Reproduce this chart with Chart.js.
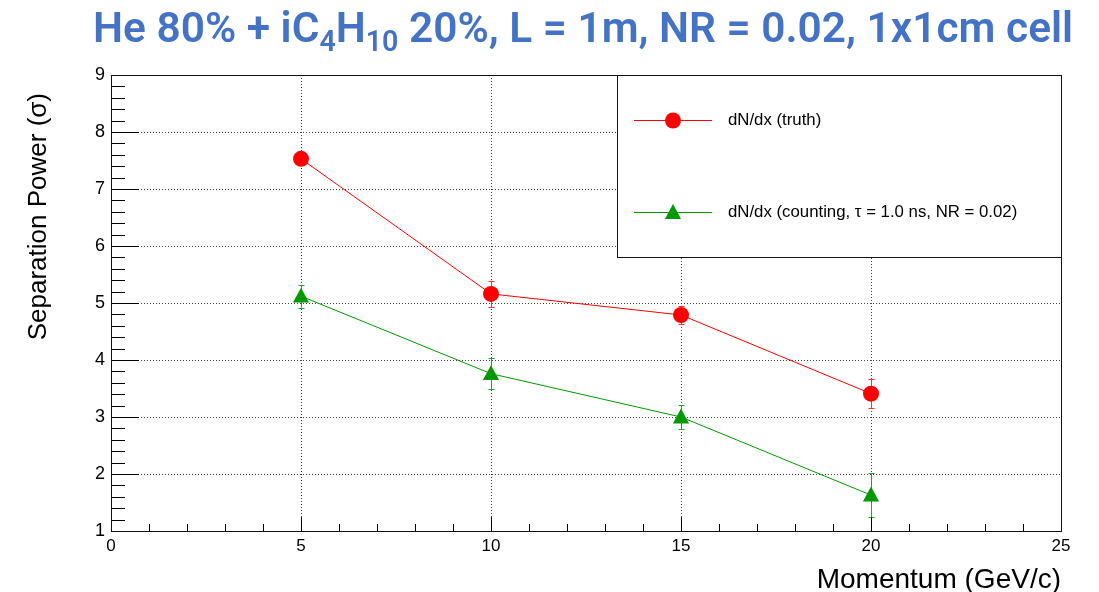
<!DOCTYPE html>
<html><head><meta charset="utf-8">
<script src="https://cdn.jsdelivr.net/npm/chart.js@4.4.1/dist/chart.umd.min.js"></script>
<style>html,body{margin:0;padding:0;background:#fff;}canvas{display:block;}</style>
</head><body>
<canvas id="c" width="1099" height="592"></canvas>
<script>
const momentum = [5, 10, 15, 20];
const truthValues = [7.53, 5.16, 4.79, 3.41];
const truthErrors = [0.1, 0.23, 0.16, 0.26];
const countingValues = [5.12, 3.76, 3.0, 1.63];
const countingErrors = [0.2, 0.27, 0.21, 0.38];
const seriesLabels = ['dN/dx (truth)', 'dN/dx (counting, \u03c4 = 1.0 ns, NR = 0.02)'];
const xTitle = 'Momentum (GeV/c)';
const yTitle = 'Separation Power (\u03c3)';
const titleParts = [['He 80% + iC', false], ['4', true], ['H', false], ['10', true], [' 20%, L = 1m, NR = 0.02, 1x1cm cell', false]];
const xRange = [0, 25];
const yRange = [1, 9];

const RED = '#ff0000';
const GREEN = '#009a00';
const FONT = '"Liberation Sans", Arial, sans-serif';

function drawMarker(ctx, style, x, y, r, color) {
  ctx.save();
  ctx.fillStyle = color;
  ctx.beginPath();
  if (style === 'circle') {
    ctx.arc(x, y, r, 0, Math.PI * 2);
  } else {
    const h = r * 1.0;
    ctx.moveTo(x, y - h);
    ctx.lineTo(x + r * 0.95, y + h * 0.75);
    ctx.lineTo(x - r * 0.95, y + h * 0.75);
    ctx.closePath();
  }
  ctx.fill();
  ctx.restore();
}

const errorBars = {
  id: 'errorBars',
  beforeDatasetsDraw(chart) {
    const {ctx, scales: {x, y}} = chart;
    const sets = [[truthValues, truthErrors, '#ff3030'], [countingValues, countingErrors, '#20a820']];
    ctx.save();
    ctx.lineWidth = 1;
    sets.forEach(([vals, errs, color]) => {
      ctx.strokeStyle = color;
      vals.forEach((v, i) => {
        const px = Math.round(x.getPixelForValue(momentum[i])) + 0.5;
        const y1 = y.getPixelForValue(v + errs[i]);
        const y2 = y.getPixelForValue(v - errs[i]);
        ctx.beginPath();
        ctx.moveTo(px, y1); ctx.lineTo(px, y2);
        ctx.moveTo(px - 3, Math.round(y1) + 0.5); ctx.lineTo(px + 3, Math.round(y1) + 0.5);
        ctx.moveTo(px - 3, Math.round(y2) + 0.5); ctx.lineTo(px + 3, Math.round(y2) + 0.5);
        ctx.stroke();
      });
    });
    ctx.restore();
  }
};

const customMarkers = {
  id: 'customMarkers',
  afterDatasetsDraw(chart) {
    const {ctx, scales: {x, y}} = chart;
    truthValues.forEach((v, i) => drawMarker(ctx, 'circle', x.getPixelForValue(momentum[i]), y.getPixelForValue(v), 8, RED));
    countingValues.forEach((v, i) => drawMarker(ctx, 'triangle', x.getPixelForValue(momentum[i]), y.getPixelForValue(v), 8.5, GREEN));
  }
};

const frameAndTicks = {
  id: 'frameAndTicks',
  afterDraw(chart) {
    const {ctx, chartArea: a, scales: {x, y}} = chart;
    ctx.save();
    ctx.strokeStyle = '#000';
    ctx.lineWidth = 1;
    ctx.beginPath();
    for (let k = Math.round(yRange[0] * 5); k <= Math.round(yRange[1] * 5); k++) {
      const v = k / 5;
      const py = Math.round(y.getPixelForValue(v)) + 0.5;
      const len = (k % 5 === 0) ? 28 : 14;
      ctx.moveTo(a.left, py); ctx.lineTo(a.left + len, py);
    }
    for (let v = xRange[0]; v <= xRange[1]; v++) {
      const px = Math.round(x.getPixelForValue(v)) + 0.5;
      const len = (v % 5 === 0) ? 14 : 7;
      ctx.moveTo(px, a.bottom); ctx.lineTo(px, a.bottom - len);
    }
    ctx.stroke();
    ctx.strokeStyle = '#111';
    ctx.strokeRect(Math.round(a.left) + 0.5, Math.round(a.top) + 0.5, Math.round(a.right - a.left), Math.round(a.bottom - a.top));

    // axis titles
    ctx.fillStyle = '#000';
    ctx.font = '28px ' + FONT;
    ctx.textAlign = 'right';
    ctx.textBaseline = 'alphabetic';
    ctx.fillText(xTitle, a.right, 588);
    ctx.font = '26px ' + FONT;
    ctx.save();
    ctx.translate(46, 93);
    ctx.rotate(-Math.PI / 2);
    ctx.textAlign = 'right';
    ctx.fillText(yTitle, 0, 0);
    ctx.restore();

    // legend
    const lx = 617, ly = 75, lw = 444, lh = 182;
    ctx.fillStyle = '#fff';
    ctx.fillRect(lx, ly, lw, lh);
    ctx.strokeStyle = '#111';
    ctx.strokeRect(lx + 0.5, ly + 0.5, lw, lh);
    const entries = [[seriesLabels[0], RED, 'circle', 120.5, 8], [seriesLabels[1], GREEN, 'triangle', 212.5, 8.5]];
    entries.forEach(([label, color, style, ey, r]) => {
      ctx.strokeStyle = color;
      ctx.beginPath();
      ctx.moveTo(634, ey); ctx.lineTo(712, ey);
      ctx.stroke();
      drawMarker(ctx, style, 673, ey, r, color);
      ctx.fillStyle = '#000';
      ctx.font = '16.8px ' + FONT;
      ctx.textAlign = 'left';
      ctx.textBaseline = 'middle';
      ctx.fillText(label, 728, ey);
    });

    // title with subscripts
    const big = '600 43px Roboto, "Liberation Sans", sans-serif';
    const small = '600 29px Roboto, "Liberation Sans", sans-serif';
    let total = 0;
    titleParts.forEach(([t, sub]) => { ctx.font = sub ? small : big; total += ctx.measureText(t).width; });
    const sx = 980 / total;
    ctx.translate(93, 0);
    ctx.scale(sx, 1);
    ctx.fillStyle = '#4472c4';
    ctx.textAlign = 'left';
    ctx.textBaseline = 'alphabetic';
    let cx = 0;
    titleParts.forEach(([t, sub]) => {
      ctx.font = sub ? small : big;
      ctx.fillText(t, cx, sub ? 51 : 42);
      cx += ctx.measureText(t).width;
    });
    ctx.restore();
  }
};

const gridColor = (lims) => (c) => (c.tick && (c.tick.value === lims[0] || c.tick.value === lims[1])) ? 'rgba(0,0,0,0)' : '#444';

new Chart(document.getElementById('c'), {
  type: 'scatter',
  data: {
    datasets: [
      { label: seriesLabels[0], data: momentum.map((m, i) => ({x: m, y: truthValues[i]})), showLine: true,
        borderColor: RED, borderWidth: 1, pointRadius: 0, pointHoverRadius: 0 },
      { label: seriesLabels[1], data: momentum.map((m, i) => ({x: m, y: countingValues[i]})), showLine: true,
        borderColor: GREEN, borderWidth: 1, pointRadius: 0, pointHoverRadius: 0 }
    ]
  },
  options: {
    responsive: false,
    animation: false,
    devicePixelRatio: 1,
    layout: { padding: { top: 75, left: 0, right: 38, bottom: 0 } },
    plugins: { legend: { display: false }, title: { display: false }, tooltip: { enabled: false } },
    scales: {
      x: {
        type: 'linear', min: xRange[0], max: xRange[1],
        afterFit: (s) => { s.height = 61; },
        ticks: { stepSize: 5, color: '#000', font: { family: FONT, size: 17 }, padding: 5, maxRotation: 0 },
        grid: { color: gridColor(xRange), drawTicks: false, lineWidth: 1 },
        border: { display: false, dash: [1, 2] }
      },
      y: {
        type: 'linear', min: yRange[0], max: yRange[1],
        afterFit: (s) => { s.width = 111; },
        ticks: { stepSize: 1, color: '#000', font: { family: FONT, size: 18 }, padding: 6 },
        grid: { color: gridColor(yRange), drawTicks: false, lineWidth: 1 },
        border: { display: false, dash: [1, 2] }
      }
    }
  },
  plugins: [errorBars, customMarkers, frameAndTicks]
});
</script>
</body></html>
